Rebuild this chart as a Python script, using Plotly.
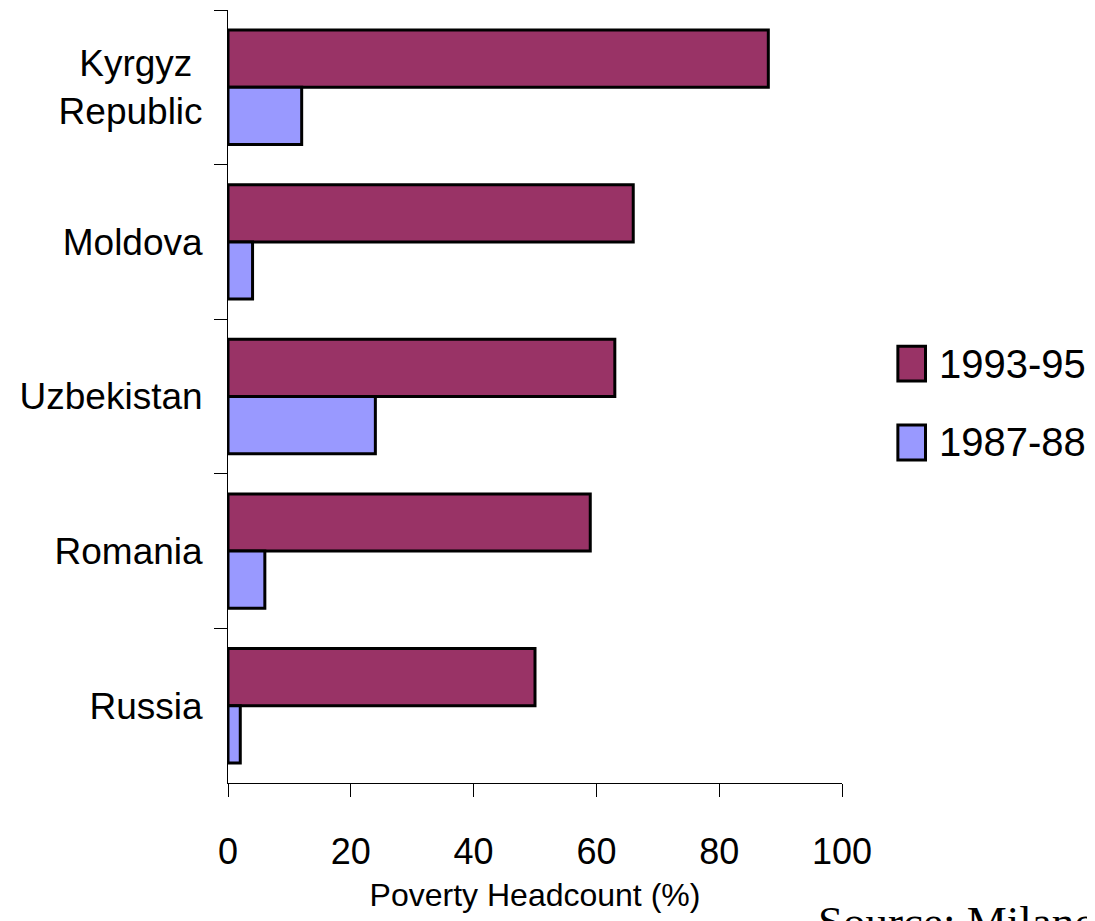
import plotly.graph_objects as go

countries = ["Kyrgyz\u00a0<br>Republic", "Moldova", "Uzbekistan", "Romania", "Russia"]
poverty_1993_95 = [88, 66, 63, 59, 50]
poverty_1987_88 = [12, 4, 24, 6, 2]
series_names = ["1993-95", "1987-88"]
series_colors = ["#993366", "#9999FF"]
x_ticks = [0, 20, 40, 60, 80, 100]

SANS = "Liberation Sans, Arial, sans-serif"

fig = go.Figure()
for name, vals, color in zip(series_names, [poverty_1993_95, poverty_1987_88], series_colors):
    fig.add_trace(
        go.Bar(
            y=countries,
            x=vals,
            name=name,
            orientation="h",
            marker=dict(color=color, line=dict(color="#000000", width=3)),
            showlegend=False,
        )
    )

# hand-drawn legend (big squares like the original)
legend_y = [0.5425, 0.4405]
for name, color, ly in zip(series_names, series_colors, legend_y):
    fig.add_shape(
        type="rect", xref="paper", yref="paper",
        x0=1.091, x1=1.136, y0=ly - 0.0225, y1=ly + 0.0225,
        fillcolor=color, line=dict(color="#000000", width=3),
    )
    fig.add_annotation(
        x=1.155, y=ly, xref="paper", yref="paper", text=name,
        showarrow=False, xanchor="left", yanchor="middle",
        font=dict(family=SANS, size=40, color="#000000"),
    )

fig.add_annotation(
    x=0.958, y=-0.145, xref="paper", yref="paper",
    text="Source: Milanovic (1998)", showarrow=False,
    xanchor="left", yanchor="top",
    font=dict(family="Liberation Serif, Times New Roman, serif", size=45, color="#000000"),
)

# page body adds an 8px margin, so the figure is 8px smaller each way
fig.update_layout(
    width=1087,
    height=913,
    margin=dict(l=220, r=253, t=2, b=138),
    paper_bgcolor="#ffffff",
    plot_bgcolor="#ffffff",
    barmode="group",
    bargap=0.26,
    bargroupgap=0,
    font=dict(family=SANS, color="#000000"),
    xaxis=dict(
        range=[0, 100],
        tickvals=x_ticks,
        ticks="outside",
        ticklen=13,
        tickcolor="#000000",
        showline=True,
        linecolor="#000000",
        linewidth=1,
        showgrid=False,
        zeroline=False,
        automargin=False,
        tickfont=dict(family=SANS, size=36),
        ticklabelstandoff=24,
        title=dict(text="Poverty Headcount (%)", font=dict(family=SANS, size=32), standoff=12),
    ),
    yaxis=dict(
        autorange="reversed",
        tickson="boundaries",
        ticks="outside",
        ticklen=13,
        tickcolor="#000000",
        showline=True,
        linecolor="#000000",
        linewidth=1,
        showgrid=False,
        automargin=False,
        tickfont=dict(family=SANS, size=37),
        ticklabelstandoff=17,
    ),
)

fig.write_html("out.html")
